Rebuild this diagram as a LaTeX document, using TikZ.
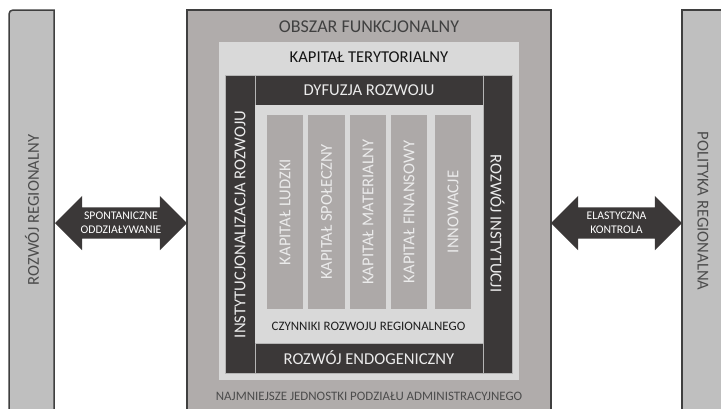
\documentclass[tikz,border=0pt]{standalone}
\usepackage{fontspec}
\setmainfont{Carlito}
\usetikzlibrary{shapes.arrows}
\definecolor{darkc}{HTML}{3B3838}
\definecolor{mainc}{HTML}{B0ACAB}
\definecolor{lightc}{HTML}{D9D9D9}
\definecolor{colc}{HTML}{ADA9A8}
\definecolor{barc}{HTML}{BFBFBF}
\definecolor{edgec}{HTML}{3F3F3F}
\definecolor{sepc}{HTML}{B5B5B5}
\begin{document}
\begin{tikzpicture}[x=1pt,y=-1pt,
  blk/.style={rectangle, anchor=north west, inner sep=0pt, outer sep=0pt},
  darkblk/.style={blk, fill=darkc, draw=sepc, line width=0.6pt},
  colblk/.style={blk, fill=colc, minimum width=36pt, minimum height=194pt},
  bigtxt/.style={font=\fontsize{16.6}{18}\selectfont, inner sep=0pt},
  smalltxt/.style={font=\fontsize{12.9}{14}\selectfont, inner sep=0pt},
  arrtxt/.style={font=\fontsize{11.7}{14}\selectfont, inner sep=0pt, align=center, text=white},
  twoarrow/.style={double arrow, fill=darkc, draw=none, inner xsep=0pt, inner ysep=15.5pt,
    minimum height=132pt, double arrow head extend=11.5pt,
    double arrow tip angle=90}
]
\fill[white] (0,0) rectangle (721,408);
\useasboundingbox (0,0) rectangle (721,408);

% side bars
\draw[fill=barc, draw=edgec, line width=1.5pt] (9,420) [rounded corners=4pt]-- (9,10) [sharp corners]-- (54,10) -- (54,420);
\node[blk] (lbar) at (9,10) {};
\draw[fill=barc, draw=edgec, line width=1.5pt] (682,420) -- (682,10) -- (730,10) -- (730,420);
\node[blk] (rbar) at (682,10) {};

% main box
\node[blk, fill=mainc, draw=edgec, line width=1.5pt, minimum width=364pt, minimum height=410pt] (main) at (187,10) {};
\node[blk, fill=lightc, minimum width=300pt, minimum height=338pt] (terr) at (219,42) {};

% dark frame
\node[darkblk, minimum width=30pt, minimum height=298pt] (instl) at (225,75) {};
\node[darkblk, minimum width=29pt, minimum height=298pt] (instr) at (483,75) {};
\node[darkblk, minimum width=228pt, minimum height=30pt] (dyf) at (255,75) {};
\node[darkblk, minimum width=228pt, minimum height=30pt] (endo) at (255,343) {};
\node[blk, fill=lightc, minimum width=228pt, minimum height=238pt] (czyn) at (255,105) {};

% columns
\node[colblk] (c1) at (267,115) {};
\node[colblk, minimum width=37pt] (c2) at (308,115) {};
\node[colblk] (c3) at (350,115) {};
\node[colblk] (c4) at (391,115) {};
\node[colblk] (c5) at (435,115) {};

\node[bigtxt, rotate=90, text=white!92!black] (t1) at (c1.center) {KAPITAŁ LUDZKI};
\node[bigtxt, rotate=90, text=white!92!black] (t2) at (c2.center) {KAPITAŁ SPOŁECZNY};
\node[bigtxt, rotate=90, text=white!92!black] (t3) at (c3.center) {KAPITAŁ MATERIALNY};
\node[bigtxt, rotate=90, text=white!92!black] (t4) at (c4.center) {KAPITAŁ FINANSOWY};
\node[bigtxt, rotate=90, text=white!92!black] (t5) at (c5.center) {INNOWACJE};

% texts
\node[bigtxt, font=\fontsize{18}{20}\selectfont, text=black!75] (tobs) at (369,27) {OBSZAR FUNKCJONALNY};
\node[bigtxt, text=black!92] (tterr) at (369,57) {KAPITAŁ TERYTORIALNY};
\node[bigtxt, text=white!92!black] (tdyf) at (dyf.center) {DYFUZJA ROZWOJU};
\node[bigtxt, text=white!92!black] (tendo) at (endo.center) {ROZWÓJ ENDOGENICZNY};
\node[smalltxt, text=black!88] (tczyn) at (368.5,326) {CZYNNIKI ROZWOJU REGIONALNEGO};
\node[smalltxt, text=black!70] (tnaj) at (369,396) {NAJMNIEJSZE JEDNOSTKI PODZIAŁU ADMINISTRACYJNEGO};
\node[bigtxt, rotate=90, text=white!92!black] (tinstl) at (240,224.5) {INSTYTUCJONALIZACJA ROZWOJU};
\node[bigtxt, rotate=-90, text=white!92!black] (tinstr) at (497.5,223.5) {ROZWÓJ INSTYTUCJI};
\node[bigtxt, rotate=90, text=black!70] (tlbar) at (32,210) {ROZWÓJ REGIONALNY};
\node[bigtxt, rotate=-90, text=black!70] (trbar) at (703,211) {POLITYKA REGIONALNA};

% arrows
\node[twoarrow] (arrL) at (121,223) {};
\node[arrtxt] (tarrL) at (arrL.center) {SPONTANICZNE\\ODDZIAŁYWANIE};
\node[twoarrow, minimum height=131pt] (arrR) at (616.5,223) {};
\node[arrtxt] (tarrR) at (arrR.center) {ELASTYCZNA\\KONTROLA};
\end{tikzpicture}
\end{document}
